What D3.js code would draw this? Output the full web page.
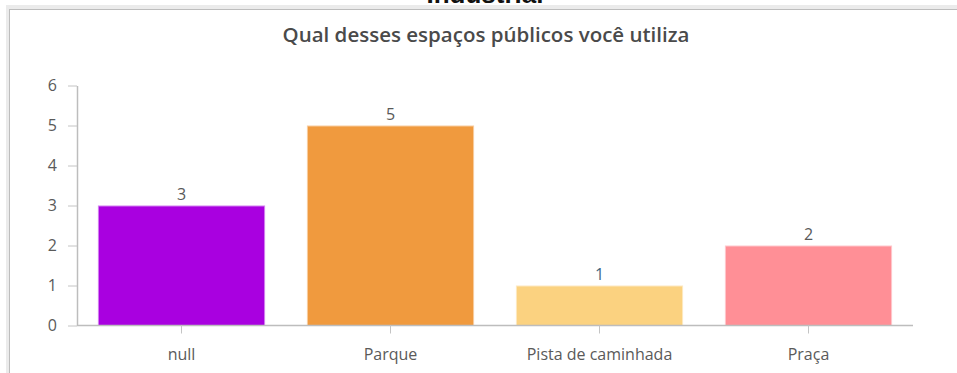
<!DOCTYPE html>
<html>
<head>
<meta charset="utf-8">
<script src="https://cdn.jsdelivr.net/npm/d3@7"></script>
<style>
  html, body { margin: 0; padding: 0; background: #fff; }
  svg { display: block; }
</style>
</head>
<body>
<svg id="chart" width="957" height="373"></svg>
<script>
// Survey answers: which public spaces people use
const categories = ["null", "Parque", "Pista de caminhada", "Praça"];
const counts = [3, 5, 1, 2];
const barColors = ["#a900e0", "#f09a3e", "#fbd280", "#ff8f96"];
const edgeColors = ["#d27ff0", "#f8cc9e", "#fde8bf", "#ffc7cb"];
const yTicks = [0, 1, 2, 3, 4, 5, 6];

const svg = d3.select("#chart");
const W = 957, H = 373;
const margin = { left: 77, right: 44, top: 85.5, bottom: 47.5 };
const labelFont = "'Open Sans', 'Noto Sans', sans-serif";

// Panel frame
svg.append("rect").attr("x", 6).attr("y", 5).attr("width", W).attr("height", H)
  .attr("fill", "#ebebeb");
svg.append("rect").attr("x", 9).attr("y", 9).attr("width", W).attr("height", H)
  .attr("fill", "#bdbdbd");
svg.append("rect").attr("x", 10).attr("y", 10).attr("width", W).attr("height", H)
  .attr("fill", "#fff");

// Heading of the section above, mostly scrolled out of view
svg.append("text")
  .attr("x", 485).attr("y", 3)
  .attr("text-anchor", "middle")
  .attr("font-family", "Liberation Sans, Arial, sans-serif")
  .attr("font-weight", "bold")
  .attr("font-size", 26)
  .attr("fill", "#111")
  .text("Industrial");

// Title
svg.append("text")
  .attr("x", 486).attr("y", 42)
  .attr("text-anchor", "middle")
  .attr("font-family", labelFont)
  .attr("font-weight", 600)
  .attr("font-size", 20.5)
  .attr("fill", "#4a4a4a")
  .text("Qual desses espaços públicos você utiliza");

const x = d3.scaleBand()
  .domain(categories)
  .range([margin.left, W - margin.right])
  .paddingInner(0.2)
  .paddingOuter(0.1);

const y = d3.scaleLinear()
  .domain([0, 6])
  .range([H - margin.bottom, margin.top]);

// Bars
svg.append("g").selectAll("rect")
  .data(categories)
  .join("rect")
  .attr("x", (d) => x(d) + 0.5)
  .attr("y", (d, i) => y(counts[i]) + 0.5)
  .attr("width", x.bandwidth() - 1)
  .attr("height", (d, i) => y(0) - y(counts[i]) - 0.5)
  .attr("fill", (d, i) => barColors[i])
  .attr("stroke", (d, i) => edgeColors[i])
  .attr("stroke-width", 1);

// Value labels
svg.append("g").selectAll("text")
  .data(categories)
  .join("text")
  .attr("x", (d) => x(d) + x.bandwidth() / 2)
  .attr("y", (d, i) => y(counts[i]) - 6)
  .attr("text-anchor", "middle")
  .attr("font-family", labelFont)
  .attr("font-size", 16)
  .attr("fill", (d, i) => counts[i] === 1 ? "#3f6680" : "#595959")
  .text((d, i) => counts[i]);

// Y axis
const yAxis = svg.append("g")
  .attr("transform", `translate(${margin.left},0)`)
  .call(d3.axisLeft(y).tickValues(yTicks).tickFormat(d3.format("d"))
    .tickSize(9).tickPadding(11).tickSizeOuter(0));

// X axis
const xAxis = svg.append("g")
  .attr("transform", `translate(0,${y(0)})`)
  .call(d3.axisBottom(x).tickSize(8).tickPadding(15).tickSizeOuter(0));

[yAxis, xAxis].forEach((g) => {
  g.select(".domain").attr("stroke", "#bdbdbd").attr("stroke-width", 1.5);
  g.selectAll(".tick line").attr("stroke", "#c4c4c4");
  g.selectAll(".tick text")
    .attr("font-family", labelFont)
    .attr("font-size", 16)
    .attr("fill", "#5a5a5a");
});
xAxis.select(".domain").attr("d", `M${margin.left},0H${W - margin.right}`);
</script>
</body>
</html>
